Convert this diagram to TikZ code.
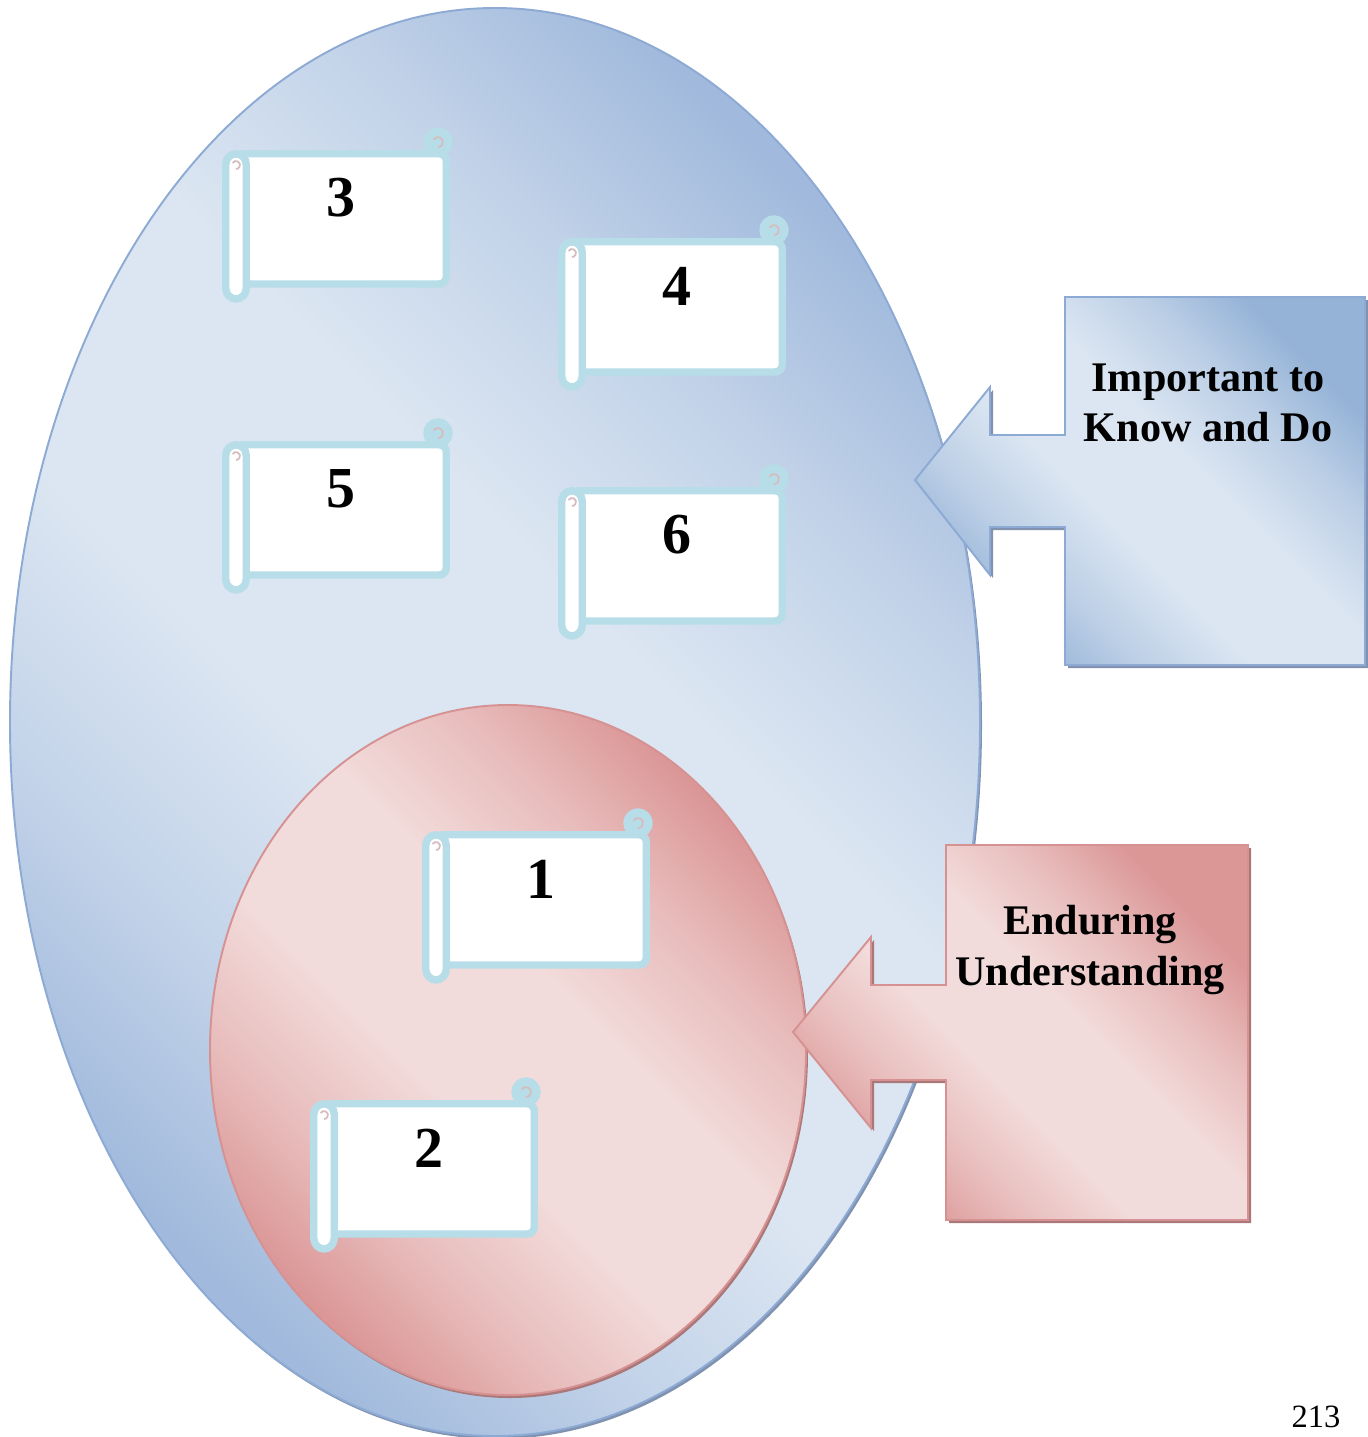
\documentclass[tikz,border=0pt]{standalone}
\usepackage{fontspec}
\setmainfont{Liberation Serif}
\usetikzlibrary{positioning,calc}
\definecolor{bluerim}{RGB}{141,170,212}
\definecolor{bluedeep}{RGB}{160,185,220}
\definecolor{bluepale}{RGB}{220,230,242}
\definecolor{calloutblue}{RGB}{149,179,215}
\definecolor{pinkrim}{RGB}{214,146,146}
\definecolor{pinkdeep}{RGB}{219,150,150}
\definecolor{pinkpale}{RGB}{242,220,219}
\definecolor{scrollrim}{RGB}{183,221,232}
\definecolor{curlmark}{RGB}{214,188,190}
\definecolor{shadowblue}{RGB}{128,146,176}
\definecolor{shadowpink}{RGB}{170,120,120}

\pgfdeclareverticalshading{glossblue}{100bp}{color(0bp)=(bluedeep); color(25bp)=(bluedeep);
  color(34bp)=(bluedeep!45!bluepale); color(44bp)=(bluepale); color(56bp)=(bluepale);
  color(66bp)=(bluedeep!45!bluepale); color(75bp)=(bluedeep); color(100bp)=(bluedeep)}
\pgfdeclareverticalshading{glossbox}{100bp}{color(0bp)=(calloutblue); color(25bp)=(calloutblue);
  color(34bp)=(calloutblue!45!bluepale); color(44bp)=(bluepale); color(56bp)=(bluepale);
  color(66bp)=(calloutblue!45!bluepale); color(75bp)=(calloutblue); color(100bp)=(calloutblue)}
\pgfdeclareverticalshading{glosspink}{100bp}{color(0bp)=(pinkdeep); color(25bp)=(pinkdeep);
  color(34bp)=(pinkdeep!45!pinkpale); color(44bp)=(pinkpale); color(56bp)=(pinkpale);
  color(66bp)=(pinkdeep!45!pinkpale); color(75bp)=(pinkdeep); color(100bp)=(pinkdeep)}

\tikzset{
  bluefill/.style={shading=glossblue,shading angle=-45},
  boxblue/.style={shading=glossbox,shading angle=-45},
  pinkfill/.style={shading=glosspink,shading angle=-45},
  scrollline/.style={draw=scrollrim,line width=4.25pt,line join=round},
  numlabel/.style={font=\fontsize{33}{36}\selectfont\bfseries,inner sep=0pt},
  calltext/.style={font=\fontsize{24}{28.6}\selectfont\bfseries,align=center,inner sep=0pt}
}

\begin{document}
\begin{tikzpicture}[x=0.02cm,y=-0.02cm]
\useasboundingbox (0,0) rectangle (1367,1437);
% ---------- outer ellipse ----------
\fill[shadowblue] (497,725) ellipse (485 and 714);
\shade[bluefill,draw=bluerim,line width=1.1pt] (495,722) ellipse (485 and 714);
% ---------- scrolls 3 to 6 ----------
\foreach \sx/\sy/\num in {222/129/3, 558/217/4, 222/420/5, 558/466/6}{
  \begin{scope}[shift={(\sx,\sy)}]
  \filldraw[scrollline,fill=white,rounded corners=4pt] (14,24.75) rectangle (224.25,155);
  \filldraw[scrollline,fill=white,rounded corners=6pt] (3.75,24.75) rectangle (24.25,170);
  \filldraw[scrollline,fill=scrollrim] (216,13) circle (11);
  \draw[curlmark,line width=1pt] (216,13) ++(-150:5) arc (-150:90:5);
  \draw[curlmark,line width=1pt] (14,36) ++(-150:4) arc (-150:90:4);
  \node[numlabel] (s\num) at (119,69) {\num};
  \end{scope}
}
% ---------- inner ellipse ----------
\fill[shadowpink] (510,1053) ellipse (298 and 345);
\shade[pinkfill,draw=pinkrim,line width=1.1pt] (508,1050) ellipse (298 and 345);
% ---------- scrolls 1 and 2 ----------
\foreach \sx/\sy/\num in {422/810/1, 310/1079/2}{
  \begin{scope}[shift={(\sx,\sy)}]
  \filldraw[scrollline,fill=white,rounded corners=4pt] (14,24.75) rectangle (224.25,155);
  \filldraw[scrollline,fill=white,rounded corners=6pt] (3.75,24.75) rectangle (24.25,170);
  \filldraw[scrollline,fill=scrollrim] (216,13) circle (11);
  \draw[curlmark,line width=1pt] (216,13) ++(-150:5) arc (-150:90:5);
  \draw[curlmark,line width=1pt] (14,36) ++(-150:4) arc (-150:90:4);
  \node[numlabel] (s\num) at (119,69) {\num};
  \end{scope}
}
% ---------- callouts ----------
\fill[shadowblue] (1068,300) -- (1368,300) -- (1368,668) -- (1068,668) -- (1068,530) -- (993,530)
  -- (993,578) -- (918,483) -- (993,390) -- (993,438) -- (1068,438) -- cycle;
\shade[boxblue,draw=bluerim,line width=1.1pt] (1065,297) -- (1365,297) -- (1365,665) -- (1065,665)
  -- (1065,527) -- (990,527) -- (990,575) -- (915,480) -- (990,387) -- (990,435) -- (1065,435) -- cycle;
\node[calltext] (know) at (1208,403) {Important to\\Know and Do};
\fill[shadowpink] (949,848) -- (1251,848) -- (1251,1223) -- (949,1223) -- (949,1083) -- (874,1083)
  -- (874,1131) -- (796,1035) -- (874,940) -- (874,988) -- (949,988) -- cycle;
\shade[pinkfill,draw=pinkrim,line width=1.1pt] (946,845) -- (1248,845) -- (1248,1220) -- (946,1220)
  -- (946,1080) -- (871,1080) -- (871,1128) -- (793,1032) -- (871,937) -- (871,985) -- (946,985) -- cycle;
\node[calltext] (enduring) at (1090,950) {Enduring\\Understanding};
% ---------- page number ----------
\node[font=\fontsize{18.5}{20}\selectfont,inner sep=0pt] (pagenum) at (1316,1417) {213};
\end{tikzpicture}
\end{document}
